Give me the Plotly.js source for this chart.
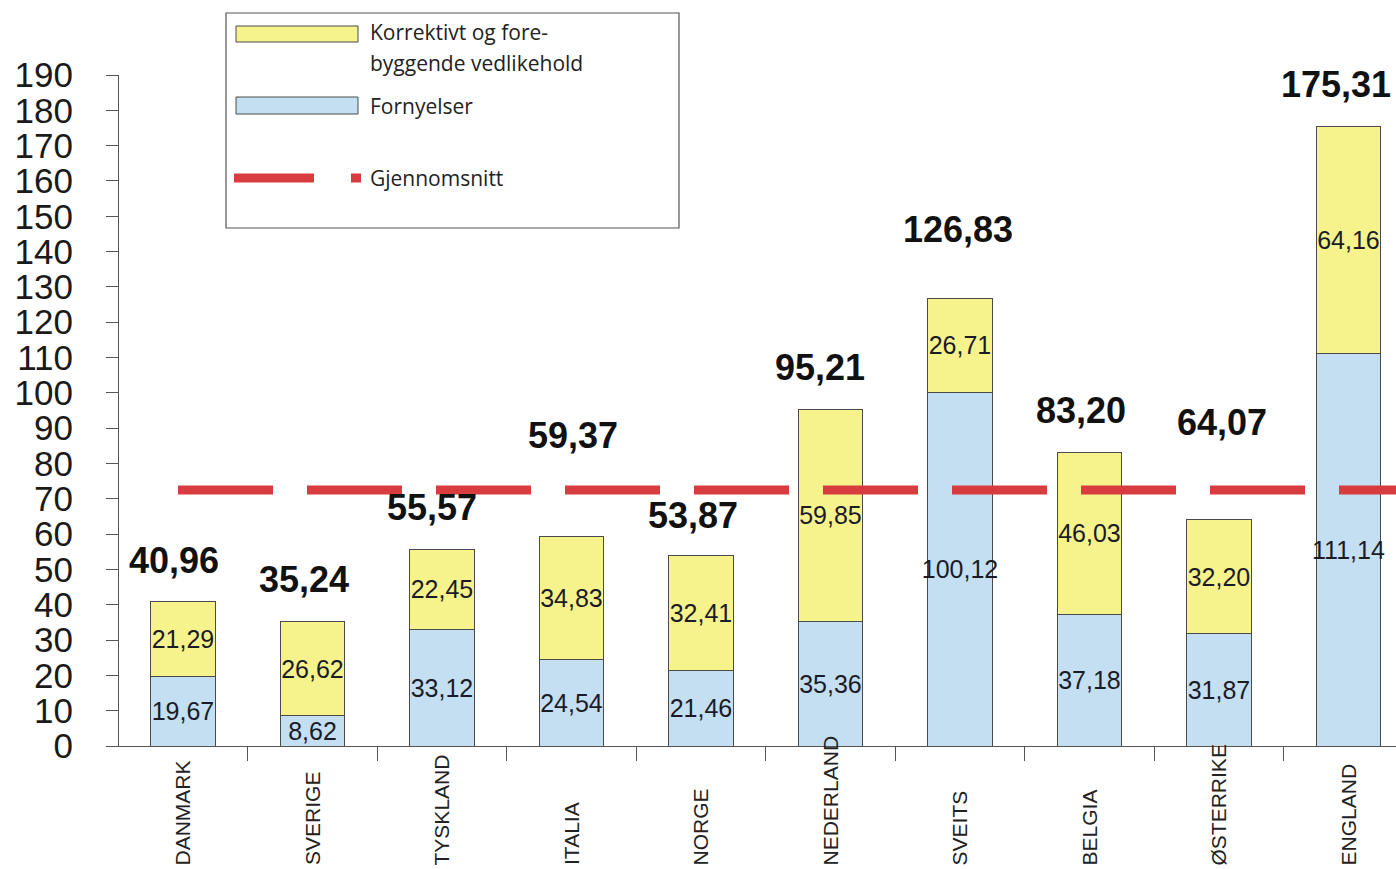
<!DOCTYPE html>
<html>
<head>
<meta charset="utf-8">
<script src="https://cdn.plot.ly/plotly-3.0.1.min.js"></script>
<style>
  html, body { margin: 0; padding: 0; background: #ffffff; }
  #chart { width: 1396px; height: 869px; }
</style>
</head>
<body>
<div id="chart"></div>
<script>
// ---- Data ----
const categories = ["DANMARK", "SVERIGE", "TYSKLAND", "ITALIA", "NORGE",
                    "NEDERLAND", "SVEITS", "BELGIA", "ØSTERRIKE", "ENGLAND"];
const fornyelser = [19.67, 8.62, 33.12, 24.54, 21.46, 35.36, 100.12, 37.18, 31.87, 111.14];
const korrektivt = [21.29, 26.62, 22.45, 34.83, 32.41, 59.85, 26.71, 46.03, 32.20, 64.16];
const totals     = [40.96, 35.24, 55.57, 59.37, 53.87, 95.21, 126.83, 83.20, 64.07, 175.31];
const gjennomsnitt = 72.5;
const yTickVals = [0, 10, 20, 30, 40, 50, 60, 70, 80, 90, 100,
                   110, 120, 130, 140, 150, 160, 170, 180, 190];
const seriesNames = ["Korrektivt og fore-<br>byggende vedlikehold", "Fornyelser", "Gjennomsnitt"];

// ---- Styling ----
const fmt = v => v.toFixed(2).replace('.', ',');
const YELLOW = '#f7f38c';
const BLUE = '#c3dff1';
const RED = '#d83c3f';
const OUTLINE = '#4a4a4a';
const ARIAL = 'Liberation Sans, Arial, sans-serif';
const LEGENDFONT = 'Open Sans, sans-serif';

// placement tweaks (px) of the bold total labels relative to bar top / centre
const totalLift  = [41, 42, 42, 101, 40, 42, 69, 42, 97, 42];
const totalShift = [-9, -8, -10, 2, -8, -10, -2, -8, 3, -12];

const segFont = { family: ARIAL, size: 25, color: '#1b1b28' };

const traces = [
  {
    type: 'bar', x: categories, y: fornyelser, name: 'Fornyelser',
    marker: { color: BLUE, line: { color: OUTLINE, width: 1 } },
    text: fornyelser.map(fmt), textposition: 'inside', insidetextanchor: 'middle',
    constraintext: 'none', textangle: 0, textfont: segFont,
    hoverinfo: 'x+y', showlegend: false
  },
  {
    type: 'bar', x: categories, y: korrektivt, name: 'Korrektivt og forebyggende vedlikehold',
    marker: { color: YELLOW, line: { color: OUTLINE, width: 1 } },
    text: korrektivt.map(fmt), textposition: 'inside', insidetextanchor: 'middle',
    constraintext: 'none', textangle: 0, textfont: segFont,
    hoverinfo: 'x+y', showlegend: false
  }
];

// paper-coordinate helpers (plot area: x 119..1396, y 75..746 px)
const PX = px => (px - 119) / 1277;
const PY = py => (746 - py) / 671;

const annotations = [];
categories.forEach((c, i) => {
  // total labels
  annotations.push({
    x: c, y: totals[i], xref: 'x', yref: 'y', text: fmt(totals[i]),
    showarrow: false, xanchor: 'center', yanchor: 'middle',
    yshift: totalLift[i], xshift: totalShift[i],
    font: { family: ARIAL, size: 36, color: '#111111', weight: 'bold' }
  });
  // category labels (rotated, bottom aligned)
  annotations.push({
    x: c, y: PY(867), xref: 'x', yref: 'paper', text: c,
    showarrow: false, textangle: -90, xanchor: 'center', yanchor: 'bottom',
    font: { family: ARIAL, size: 21, color: '#222222' }
  });
});

// legend texts
const legText = (txt, px, py) => ({
  x: PX(px), y: PY(py), xref: 'paper', yref: 'paper', text: txt,
  showarrow: false, xanchor: 'left', yanchor: 'middle', align: 'left',
  font: { family: LEGENDFONT, size: 21, color: '#222222' }
});
annotations.push(legText("Korrektivt og fore-", 368, 32));
annotations.push(legText("byggende vedlikehold", 368, 63));
annotations.push(legText(seriesNames[1], 368, 106));
annotations.push(legText(seriesNames[2], 368, 178));

const shapes = [
  // average line
  {
    type: 'line', xref: 'paper', yref: 'y', x0: PX(178), x1: 1,
    y0: gjennomsnitt, y1: gjennomsnitt, layer: 'above',
    line: { color: RED, width: 9, dash: '95px,34px' }
  },
  // legend box
  {
    type: 'rect', xref: 'paper', yref: 'paper',
    x0: PX(226), x1: PX(679), y0: PY(228), y1: PY(13),
    fillcolor: '#ffffff', line: { color: '#555555', width: 1.2 }, layer: 'above'
  },
  // legend swatches
  {
    type: 'rect', xref: 'paper', yref: 'paper',
    x0: PX(236), x1: PX(358), y0: PY(42), y1: PY(26),
    fillcolor: YELLOW, line: { color: OUTLINE, width: 1 }, layer: 'above'
  },
  {
    type: 'rect', xref: 'paper', yref: 'paper',
    x0: PX(236), x1: PX(358), y0: PY(114), y1: PY(97),
    fillcolor: BLUE, line: { color: OUTLINE, width: 1 }, layer: 'above'
  },
  {
    type: 'line', xref: 'paper', yref: 'paper',
    x0: PX(234), x1: PX(314), y0: PY(178), y1: PY(178),
    line: { color: RED, width: 9 }, layer: 'above'
  },
  {
    type: 'line', xref: 'paper', yref: 'paper',
    x0: PX(351), x1: PX(361), y0: PY(178), y1: PY(178),
    line: { color: RED, width: 9 }, layer: 'above'
  }
];

const layout = {
  width: 1396, height: 869,
  margin: { l: 119, r: 0, t: 75, b: 123, pad: 0 },
  paper_bgcolor: '#ffffff', plot_bgcolor: '#ffffff',
  barmode: 'stack', bargap: 0.5,
  showlegend: false,
  xaxis: {
    type: 'category', range: [-0.494, 9.367],
    showline: true, linecolor: '#555555', linewidth: 1,
    ticks: 'outside', tickson: 'boundaries', ticklen: 14, tickcolor: '#555555', tickwidth: 1,
    showticklabels: false, showgrid: false, zeroline: false, fixedrange: true
  },
  yaxis: {
    range: [0, 190], tickvals: yTickVals, ticktext: yTickVals.map(String),
    showline: true, linecolor: '#555555', linewidth: 1,
    ticks: 'outside', ticklen: 12, tickcolor: '#555555', tickwidth: 1,
    ticklabelstandoff: 26,
    tickfont: { family: ARIAL, size: 35, color: '#1a1a1a' },
    showgrid: false, zeroline: false, fixedrange: true
  },
  annotations: annotations,
  shapes: shapes
};

Plotly.newPlot('chart', traces, layout, { displayModeBar: false, staticPlot: true });
</script>
</body>
</html>
